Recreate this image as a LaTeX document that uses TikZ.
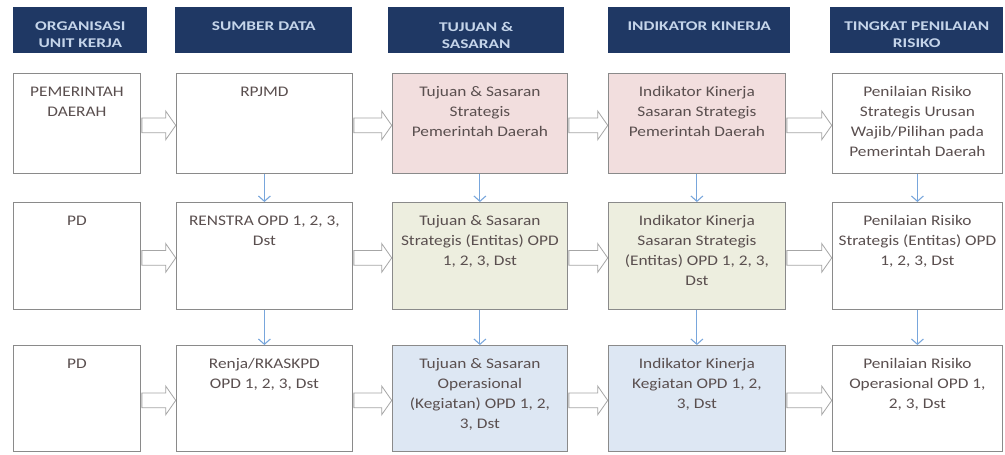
\documentclass[tikz,border=0pt]{standalone}
\usepackage{fontspec}
\setmainfont{Carlito}
\newfontfamily\boxfont[FakeStretch=1.18]{Carlito}
\newfontfamily\hdrfont[FakeStretch=1.3]{Carlito}
\usetikzlibrary{shapes.arrows,arrows.meta,calc}
\definecolor{navy}{HTML}{1F3864}
\definecolor{hdrtext}{HTML}{C5D5EA}
\definecolor{pinkfill}{HTML}{F2DEDE}
\definecolor{olivefill}{HTML}{EDEEDF}
\definecolor{bluefill}{HTML}{DDE7F3}
\definecolor{boxline}{HTML}{8A8A8A}
\definecolor{boxtext}{HTML}{5A4F4F}
\definecolor{varrowc}{HTML}{78A6DC}
\definecolor{harrowc}{HTML}{A6A6A6}
\begin{document}
\begin{tikzpicture}[x=0.75pt,y=-0.75pt,
 hdr/.style={fill=navy, draw=none, anchor=north west, inner sep=0, minimum height=34.5pt},
 hdrtxt/.style={anchor=north, inner sep=0, align=center, text=hdrtext, font=\hdrfont\bfseries\fontsize{10}{12.75}\selectfont},
 box/.style={draw=boxline, line width=0.6pt, anchor=north west, inner sep=0},
 boxtxt/.style={anchor=north, inner sep=0, align=center, text=boxtext, font=\boxfont\fontsize{11}{15}\selectfont},
 harrow/.style={single arrow, draw=harrowc, fill=white, line width=0.6pt, inner sep=0, inner ysep=5.25pt, single arrow head extend=5.25pt, single arrow tip angle=110, anchor=west},
 varrow/.style={draw=varrowc, line width=0.8pt, -{Straight Barb[length=4pt,width=9pt]}}]
\fill[white] (0,0) rectangle (1005,454);
\useasboundingbox (0,0) rectangle (1005,454);
% headers
\node[hdr, minimum width=100.5pt] (h1) at (13,7) {};
\node[hdr, minimum width=132.75pt] (h2) at (175,7) {};
\node[hdr, minimum width=132pt] (h3) at (388,7) {};
\node[hdr, minimum width=136.5pt] (h4) at (608,7) {};
\node[hdr, minimum width=129.75pt] (h5) at (830,7) {};
\node[hdrtxt] (ht1) at ([yshift=-11pt]h1.north) {ORGANISASI\\UNIT KERJA};
\node[hdrtxt] (ht2) at ([yshift=-11pt]h2.north) {SUMBER DATA};
\node[hdrtxt] (ht3) at ([yshift=-11pt]h3.north) {TUJUAN \&\\SASARAN};
\node[hdrtxt] (ht4) at ([yshift=-11pt]h4.north) {INDIKATOR KINERJA};
\node[hdrtxt] (ht5) at ([yshift=-11pt]h5.north) {TINGKAT PENILAIAN\\RISIKO};
% row 1
\node[box, minimum width=95.25pt, minimum height=75pt] (b11) at (13,73) {};
\node[box, minimum width=132pt, minimum height=75pt] (b12) at (176,73) {};
\node[box, fill=pinkfill, minimum width=131.25pt, minimum height=75pt] (b13) at (392,73) {};
\node[box, fill=pinkfill, minimum width=132.75pt, minimum height=75pt] (b14) at (608,73) {};
\node[box, minimum width=127.5pt, minimum height=75pt] (b15) at (832,73) {};
% row 2
\node[box, minimum width=95.25pt, minimum height=80.25pt] (b21) at (13,202) {};
\node[box, minimum width=132pt, minimum height=80.25pt] (b22) at (176,202) {};
\node[box, fill=olivefill, minimum width=131.25pt, minimum height=80.25pt] (b23) at (392,202) {};
\node[box, fill=olivefill, minimum width=132.75pt, minimum height=80.25pt] (b24) at (608,202) {};
\node[box, minimum width=127.5pt, minimum height=80.25pt] (b25) at (832,202) {};
% row 3
\node[box, minimum width=95.25pt, minimum height=79.5pt] (b31) at (13,345) {};
\node[box, minimum width=132pt, minimum height=79.5pt] (b32) at (176,345) {};
\node[box, fill=bluefill, minimum width=131.25pt, minimum height=79.5pt] (b33) at (392,345) {};
\node[box, fill=bluefill, minimum width=132.75pt, minimum height=79.5pt] (b34) at (608,345) {};
\node[box, minimum width=127.5pt, minimum height=79.5pt] (b35) at (832,345) {};
% texts
\node[boxtxt] (t11) at ([yshift=-10pt]b11.north) {PEMERINTAH\\DAERAH};
\node[boxtxt] (t12) at ([yshift=-10pt]b12.north) {RPJMD};
\node[boxtxt] (t13) at ([yshift=-10pt]b13.north) {Tujuan \& Sasaran\\Strategis\\Pemerintah Daerah};
\node[boxtxt] (t14) at ([yshift=-10pt]b14.north) {Indikator Kinerja\\Sasaran Strategis\\Pemerintah Daerah};
\node[boxtxt] (t15) at ([yshift=-10pt]b15.north) {Penilaian Risiko\\Strategis Urusan\\Wajib/Pilihan pada\\Pemerintah Daerah};
\node[boxtxt] (t21) at ([yshift=-10pt]b21.north) {PD};
\node[boxtxt] (t22) at ([yshift=-10pt]b22.north) {RENSTRA OPD 1, 2, 3,\\Dst};
\node[boxtxt] (t23) at ([yshift=-10pt]b23.north) {Tujuan \& Sasaran\\Strategis (Entitas) OPD\\1, 2, 3, Dst};
\node[boxtxt] (t24) at ([yshift=-10pt]b24.north) {Indikator Kinerja\\Sasaran Strategis\\(Entitas) OPD 1, 2, 3,\\Dst};
\node[boxtxt] (t25) at ([yshift=-10pt]b25.north) {Penilaian Risiko\\Strategis (Entitas) OPD\\1, 2, 3, Dst};
\node[boxtxt] (t31) at ([yshift=-10pt]b31.north) {PD};
\node[boxtxt] (t32) at ([yshift=-10pt]b32.north) {Renja/RKASKPD\\OPD 1, 2, 3, Dst};
\node[boxtxt] (t33) at ([yshift=-10pt]b33.north) {Tujuan \& Sasaran\\Operasional\\(Kegiatan) OPD 1, 2,\\3, Dst};
\node[boxtxt] (t34) at ([yshift=-10pt]b34.north) {Indikator Kinerja\\Kegiatan OPD 1, 2,\\3, Dst};
\node[boxtxt] (t35) at ([yshift=-10pt]b35.north) {Penilaian Risiko\\Operasional OPD 1,\\2, 3, Dst};
% horizontal arrows
\foreach \r in {1,2,3}{
  \foreach \a/\b in {1/2,2/3,3/4,4/5}{
    \path let \p1=(b\r\a.east), \p2=(b\r\b.west) in
      node[harrow, minimum height={\x2-\x1-1pt}] (ha\r\a\b) at ([xshift=0.5pt,yshift=-1.5pt]b\r\a.east) {};
  }
}
% vertical arrows
\foreach \c in {2,3,4,5}{
  \draw[varrow] (b1\c.south) -- (b2\c.north);
  \draw[varrow] (b2\c.south) -- (b3\c.north);
}
\end{tikzpicture}
\end{document}
